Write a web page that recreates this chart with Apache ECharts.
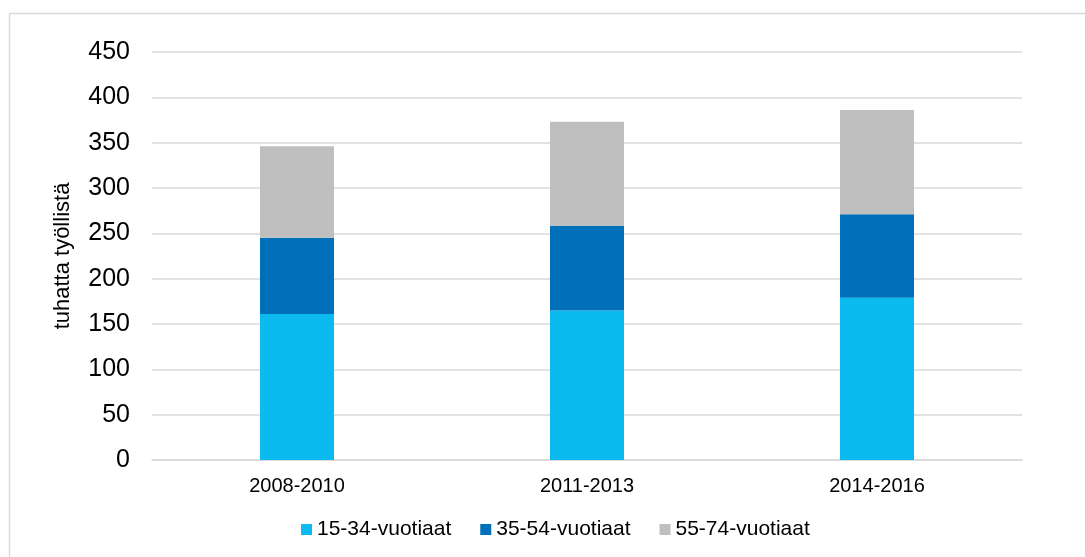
<!DOCTYPE html>
<html>
<head>
<meta charset="utf-8">
<script src="https://cdn.jsdelivr.net/npm/echarts@6/dist/echarts.min.js"></script>
<style>html,body{margin:0;padding:0;background:#fff}#c{width:1085px;height:557px}</style>
</head>
<body>
<div id="c"></div>
<script>
var categories = ['2008-2010', '2011-2013', '2014-2016'];
var seriesNames = ['15-34-vuotiaat', '35-54-vuotiaat', '55-74-vuotiaat'];
var age15_34 = [161, 165, 179];
var age35_54 = [84, 93, 92];
var age55_74 = [101, 115, 115];
var yAxisName = 'tuhatta työllistä';

var colors = ['#0bbbef', '#0070bb', '#bfbfbf'];
var values = [age15_34, age35_54, age55_74];
var font = '"Liberation Sans", Arial, sans-serif';

var chart = echarts.init(document.getElementById('c'));
chart.setOption({
  animation: false,
  textStyle: { fontFamily: font },
  graphic: [
    { type: 'line', shape: { x1: 9.5, y1: 13.5, x2: 1085, y2: 13.5 }, style: { stroke: '#d9d9d9', lineWidth: 1.5 } },
    { type: 'line', shape: { x1: 9.5, y1: 13.5, x2: 9.5, y2: 557 }, style: { stroke: '#d9d9d9', lineWidth: 1.5 } }
  ],
  grid: { left: 152, right: 63, top: 52, bottom: 97, containLabel: false },
  legend: {
    top: 519,
    left: 301,
    padding: 0,
    itemWidth: 11,
    itemHeight: 11,
    itemGap: 29,
    icon: 'rect',
    textStyle: { fontSize: 21, color: '#000', fontFamily: font },
    data: seriesNames
  },
  xAxis: {
    type: 'category',
    data: categories,
    axisLine: { show: true, lineStyle: { color: '#d9d9d9', width: 1.5 } },
    axisTick: { show: false },
    axisLabel: { fontSize: 20, color: '#000', margin: 16, fontFamily: font }
  },
  yAxis: {
    type: 'value',
    min: 0,
    max: 450,
    interval: 50,
    name: yAxisName,
    nameLocation: 'middle',
    nameGap: 78,
    nameTextStyle: { fontSize: 22, color: '#000', fontFamily: font },
    axisLine: { show: false },
    axisTick: { show: false },
    axisLabel: { fontSize: 25, color: '#000', margin: 22, fontFamily: font },
    splitLine: { lineStyle: { color: '#d9d9d9', width: 1.5 } }
  },
  series: seriesNames.map(function (n, i) {
    return {
      name: n,
      type: 'bar',
      stack: 'total',
      barWidth: 74,
      itemStyle: { color: colors[i] },
      data: values[i]
    };
  })
});
</script>
</body>
</html>
